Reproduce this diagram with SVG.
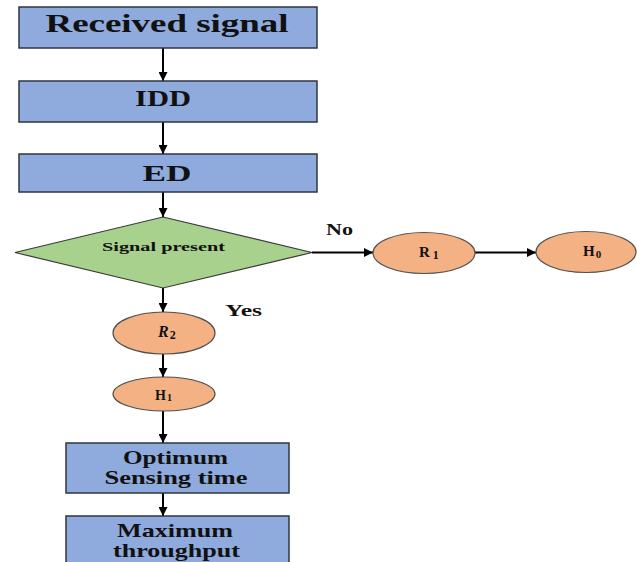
<svg xmlns="http://www.w3.org/2000/svg" width="637" height="562" viewBox="0 0 637 562">
<style>
.box{fill:#8faadc;stroke:#2f3640;stroke-width:1.5}
.dia{fill:#a9d18e;stroke:#3a3a3a;stroke-width:1.2}
.ell{fill:#f4b183;stroke:#505050;stroke-width:1.2}
.t{font-family:"Liberation Serif","Times New Roman",serif;font-weight:bold;fill:#111;text-anchor:middle}
.lbl{font-family:"Liberation Serif","Times New Roman",serif;font-weight:bold;fill:#111}
.c{stroke:#000;stroke-width:2;fill:none;marker-end:url(#ah)}
</style>
<defs>
<marker id="ah" viewBox="0 0 10 10" refX="10" refY="5" markerWidth="4.5" markerHeight="4.5" orient="auto" markerUnits="strokeWidth">
<path d="M0,0 L10,5 L0,10 z" fill="#000"/>
</marker>
</defs>
<rect width="637" height="562" fill="#fff"/>
<g id="connectors">
<line class="c" x1="163" y1="48" x2="163" y2="81"/>
<line class="c" x1="163" y1="122" x2="163" y2="154"/>
<line class="c" x1="163" y1="192" x2="163" y2="217"/>
<line class="c" x1="312" y1="252.5" x2="373" y2="252.5"/>
<line class="c" x1="475" y1="252.5" x2="536" y2="252.5"/>
<line class="c" x1="163" y1="288" x2="163" y2="312"/>
<line class="c" x1="163" y1="354" x2="163" y2="377"/>
<line class="c" x1="163" y1="411" x2="163" y2="443"/>
<line class="c" x1="163" y1="493" x2="163" y2="516"/>
<text class="lbl" x="326" y="235" font-size="16" textLength="27" lengthAdjust="spacingAndGlyphs">No</text>
<text class="lbl" x="225" y="316" font-size="16" textLength="37" lengthAdjust="spacingAndGlyphs">Yes</text>
</g>
<g id="received">
<rect class="box" x="19" y="7" width="298" height="41"/>
<text class="t" x="167" y="32" font-size="26" textLength="243" lengthAdjust="spacingAndGlyphs">Received signal</text>
</g>
<g id="idd">
<rect class="box" x="19" y="81" width="298" height="41"/>
<text class="t" x="163" y="106" font-size="23" textLength="56" lengthAdjust="spacingAndGlyphs">IDD</text>
</g>
<g id="ed">
<rect class="box" x="19" y="154" width="298" height="38"/>
<text class="t" x="167" y="181" font-size="23" textLength="49" lengthAdjust="spacingAndGlyphs">ED</text>
</g>
<g id="decision">
<polygon class="dia" points="163,217 312,252.5 163,288 15,252.5"/>
<text class="t" x="163.5" y="251" font-size="13.5" textLength="123" lengthAdjust="spacingAndGlyphs">Signal present</text>
</g>
<g id="r1">
<ellipse class="ell" cx="424" cy="253" rx="51" ry="20.5"/>
<text class="lbl" x="419" y="257" font-size="15">R<tspan font-size="12" dy="2" dx="3">1</tspan></text>
</g>
<g id="h0">
<ellipse class="ell" cx="586" cy="252" rx="50" ry="20.5"/>
<text class="lbl" x="583" y="256" font-size="15">H<tspan font-size="11" dy="2" dx="1">0</tspan></text>
</g>
<g id="r2">
<ellipse class="ell" cx="164" cy="333" rx="51" ry="21"/>
<text class="lbl" x="158" y="337" font-size="16" font-style="italic">R<tspan font-size="12" dy="2" dx="1" font-style="normal">2</tspan></text>
</g>
<g id="h1">
<ellipse class="ell" cx="164" cy="394" rx="51" ry="17"/>
<text class="lbl" x="155" y="400" font-size="14">H<tspan font-size="10" dy="1" dx="1">1</tspan></text>
</g>
<g id="optimum">
<rect class="box" x="66" y="443" width="223" height="50"/>
<text class="t" x="175.5" y="464" font-size="19" textLength="105" lengthAdjust="spacingAndGlyphs">Optimum</text>
<text class="t" x="176" y="484" font-size="19" textLength="143" lengthAdjust="spacingAndGlyphs">Sensing time</text>
</g>
<g id="maximum">
<rect class="box" x="66" y="516" width="223" height="60"/>
<text class="t" x="175" y="537" font-size="19" textLength="116" lengthAdjust="spacingAndGlyphs">Maximum</text>
<text class="t" x="176.5" y="557" font-size="19" textLength="127" lengthAdjust="spacingAndGlyphs">throughput</text>
</g>
</svg>
